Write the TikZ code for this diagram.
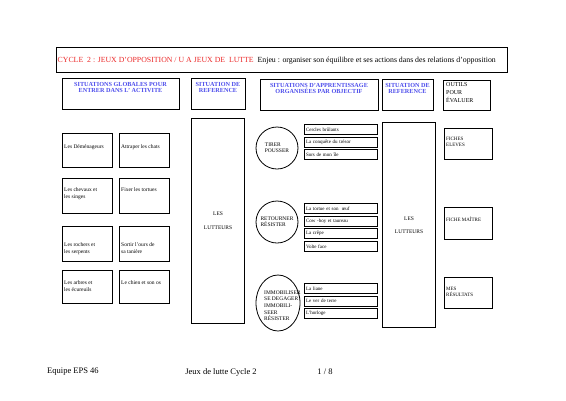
\documentclass[tikz,border=0pt]{standalone}
\usepackage{fontspec}
\setmainfont{Liberation Serif}
\usetikzlibrary{shapes.geometric, positioning}
\definecolor{titlered}{RGB}{235,40,40}
\definecolor{headblue}{RGB}{75,75,235}
\tikzstyle{box} = [rectangle, draw, line width=1.1pt, inner sep=0pt, anchor=north west]
\tikzstyle{game} = [rectangle, draw, line width=1.1pt, minimum width=73pt, minimum height=10pt,
    anchor=north west, inner sep=1.5pt, text width=70pt, align=left, font=\fontsize{5}{6}\selectfont]
\tikzstyle{txt} = [inner sep=0pt, align=left, font=\fontsize{5.5}{6.8}\selectfont]
\tikzstyle{head} = [inner sep=0pt, align=center, text=headblue, font=\fontsize{6.2}{6.2}\selectfont\bfseries, anchor=north]
\tikzstyle{goal} = [draw, line width=0.8pt, inner sep=0pt]
\newcommand{\cadre}[5]{\node[box, minimum width={(#4-#2)*1pt}, minimum height={(#5-#3)*1pt}] (#1) at (#2,#3) {};}

\begin{document}
\begin{tikzpicture}[x=1pt, y=-1pt]
    \useasboundingbox (0,0) rectangle (566,400);
    % Title
    \cadre{title}{56}{47}{507}{72}
    \node [txt, anchor=west, font=\fontsize{7.8}{9}\selectfont] (titletext) at (57.5,60.5)
        {\textcolor{titlered}{CYCLE\ \ 2 : JEUX D’OPPOSITION / U A JEUX DE\ \ LUTTE}\ \ Enjeu : organiser son équilibre et ses actions dans des relations d’opposition};
    % Column headers
    \cadre{hglob}{62}{78}{179}{109}
    \cadre{href}{191}{78}{245}{109}
    \cadre{happ}{260}{79}{378}{110}
    \cadre{hrefb}{382}{79}{433}{110}
    \cadre{hout}{443}{80}{490}{110}
    \node [head] at (120.5,82) {SITUATIONS GLOBALES POUR\\ENTRER DANS L’ ACTIVITE};
    \node [head] at (218,82) {SITUATION DE\\REFERENCE};
    \node [head] at (319,83) {SITUATIONS D’APPRENTISSAGE\\ORGANISÉES PAR OBJECTIF};
    \node [head] at (407.5,83) {SITUATION DE\\REFERENCE};
    \node [txt, anchor=north west, font=\fontsize{6}{8}\selectfont] at (446,82.5) {OUTILS\\POUR\\ÉVALUER};
    % Global situations
    \cadre{demen}{62}{133}{112}{167}
    \cadre{chats}{119}{133}{169}{167}
    \cadre{chevaux}{62}{178}{112}{213}
    \cadre{tortues}{119}{178}{169}{213}
    \cadre{rochers}{62}{226}{112}{261}
    \cadre{ours}{119}{226}{169}{261}
    \cadre{arbres}{62}{270}{112}{303}
    \cadre{chien}{119}{270}{169}{303}
    \node [txt, anchor=west] at (64,147) {Les Déménageurs};
    \node [txt, anchor=west] at (121,147) {Attraper les chats};
    \node [txt, anchor=north west] at (64,187.5) {Les chevaux et\\les singes};
    \node [txt, anchor=north west] at (121,187.5) {Fixer les tortues};
    \node [txt, anchor=north west] at (64,242.5) {Les rochers et\\les serpents};
    \node [txt, anchor=north west] at (121,242.5) {Sortir l’ours de\\sa tanière};
    \node [txt, anchor=north west] at (64,280.5) {Les arbres et\\les écureuils};
    \node [txt, anchor=north west] at (121,280.5) {Le chien et son os};
    % Reference situations
    \cadre{lutteurs}{191}{118}{244}{323}
    \cadre{lutteursb}{382}{122}{435}{327}
    \node [txt, align=center, font=\fontsize{5.5}{7}\selectfont] at (lutteurs) {LES\\[7pt]LUTTEURS};
    \node [txt, align=center, font=\fontsize{5.5}{7}\selectfont] at (lutteursb) {LES\\[6pt]LUTTEURS};
    % Objectives
    \node [goal, circle, minimum size=42pt, align=left, font=\fontsize{5.5}{5.8}\selectfont] (tirer) at (277,148) {TIRER\\POUSSER};
    \node [goal, circle, minimum size=42pt, align=left, font=\fontsize{5.5}{5.8}\selectfont] (retourner) at (277,222) {RETOURNER\\RÉSISTER};
    \node [goal, ellipse, minimum width=44pt, minimum height=56pt] (immob) at (278,303) {};
    \node [txt, anchor=north west, font=\fontsize{5.5}{6.6}\selectfont] at (264,290.5) {IMMOBILISER\\SE DEGAGER\\IMMOBILI-\\SEER\\RÉSISTER};
    % Learning situations
    \node [game] (cercles) at (304,124) {Cercles brûlants};
    \node [game, below=1.5pt of cercles] (tresor) {La conquête du trésor};
    \node [game, below=1.5pt of tresor] (ile) {Sors de mon île};
    \node [game] (tortue) at (304,203) {La tortue et son\ \ œuf};
    \node [game, below=1.5pt of tortue] (cowboy) {Cow -boy et taureau};
    \node [game, below=1.5pt of cowboy] (crepe) {La crêpe};
    \node [game, below=1.5pt of crepe] (volte) {Volte face};
    \node [game] (liane) at (304,283) {La liane};
    \node [game, below=1.5pt of liane] (ver) {Le ver de terre};
    \node [game, below=1.5pt of ver] (horloge) {L’horloge};
    % Evaluation tools
    \cadre{fiches}{444}{128}{492}{159}
    \cadre{maitre}{444}{207}{492}{239}
    \cadre{resultats}{444}{277}{492}{308}
    \node [txt, anchor=north west, font=\fontsize{5}{6.8}\selectfont] at (446,136.5) {FICHES\\ELEVES};
    \node [txt, anchor=west, font=\fontsize{5}{6.8}\selectfont] at (446,219) {FICHE MAÎTRE};
    \node [txt, anchor=north west, font=\fontsize{5}{6.8}\selectfont] at (446,286.5) {MES\\RÉSULTATS};
    % Footer
    \node [txt, anchor=west, font=\fontsize{8.5}{10}\selectfont] (equipe) at (47,372) {Equipe EPS 46};
    \node [txt, font=\fontsize{8.5}{10}\selectfont] (jeux) at (221,372) {Jeux de lutte Cycle 2};
    \node [txt, font=\fontsize{8.5}{10}\selectfont] (page) at (325,372) {1 / 8};
\end{tikzpicture}
\end{document}
